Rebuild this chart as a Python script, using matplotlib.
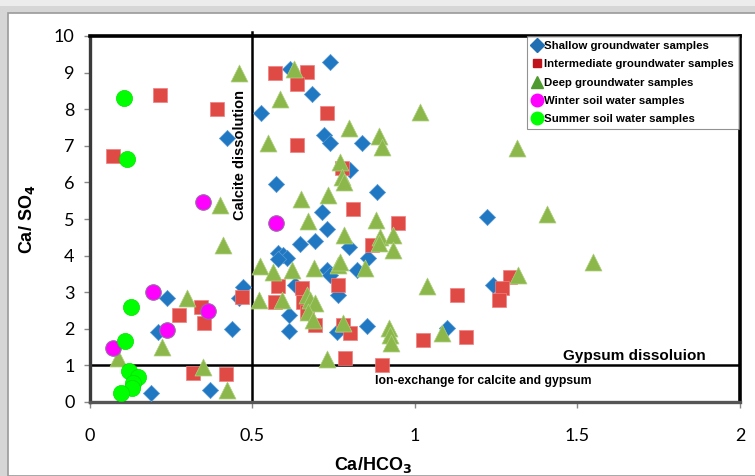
import matplotlib
matplotlib.use("Agg")
import matplotlib.pyplot as plt
from matplotlib.patches import Rectangle
from matplotlib.lines import Line2D

# Shallow groundwater samples (Ca/HCO3, Ca/SO4)
shallow_x = [0.525, 0.421, 0.615, 0.738, 0.683, 0.720, 0.738, 0.837, 0.800, 0.572,
             0.714, 0.883, 0.729, 0.692, 0.646, 0.797, 0.855, 0.577, 0.595, 0.606,
             0.580, 0.729, 0.738, 0.821, 0.763, 0.631, 0.612, 0.612, 0.760, 0.852,
             1.098, 1.222, 1.240, 0.470, 0.460, 0.237, 0.209, 0.437, 0.369, 0.188]
shallow_y = [7.90, 7.21, 9.10, 9.29, 8.42, 7.30, 7.08, 7.08, 6.34, 5.96,
             5.19, 5.74, 4.72, 4.40, 4.32, 4.24, 3.93, 4.07, 4.02, 3.93,
             3.90, 3.61, 3.47, 3.61, 2.92, 3.20, 2.38, 1.94, 1.91, 2.08,
             2.02, 5.05, 3.20, 3.14, 2.85, 2.84, 1.91, 1.99, 0.33, 0.25]

# Intermediate groundwater samples
inter_x = [0.215, 0.391, 0.071, 0.569, 0.668, 0.637, 0.729, 0.637, 0.775, 0.809,
           0.948, 0.868, 0.763, 0.578, 0.569, 0.652, 0.655, 0.668, 0.692, 0.778,
           0.800, 1.025, 1.129, 1.157, 1.292, 1.268, 1.258, 0.785, 0.898, 0.468,
           0.342, 0.274, 0.351, 0.317, 0.418]
inter_y = [8.39, 8.00, 6.72, 8.99, 9.02, 8.68, 7.90, 7.02, 6.39, 5.27,
           4.89, 4.29, 3.20, 3.17, 2.73, 3.11, 2.73, 2.46, 2.10, 2.10,
           1.88, 1.69, 2.92, 1.78, 3.42, 3.11, 2.79, 1.20, 1.01, 2.87,
           2.60, 2.38, 2.16, 0.79, 0.77]

# Deep groundwater samples
deep_x = [0.460, 0.400, 0.410, 0.523, 0.520, 0.298, 0.222, 0.086, 0.348, 0.422,
          0.628, 0.585, 0.797, 0.889, 0.898, 0.548, 0.769, 0.775, 0.782, 0.649,
          0.732, 0.671, 0.880, 1.015, 1.314, 1.406, 1.548, 1.317, 1.037, 1.083,
          0.782, 0.892, 0.932, 0.932, 0.889, 0.563, 0.622, 0.689, 0.763, 0.769,
          0.846, 0.591, 0.668, 0.677, 0.692, 0.671, 0.686, 0.778, 0.920, 0.923,
          0.926, 0.729]
deep_y = [9.00, 5.38, 4.29, 3.72, 2.79, 2.84, 1.50, 1.20, 0.96, 0.33,
          9.10, 8.28, 7.49, 7.27, 6.97, 7.08, 6.56, 6.15, 6.02, 5.55,
          5.66, 4.95, 4.98, 7.92, 6.94, 5.14, 3.83, 3.47, 3.17, 1.88,
          4.56, 4.51, 4.56, 4.15, 4.34, 3.55, 3.61, 3.66, 3.74, 3.83,
          3.66, 2.79, 2.92, 2.79, 2.70, 2.46, 2.24, 2.16, 2.02, 1.83,
          1.61, 1.17]

# Winter soil water samples
winter_x = [0.348, 0.572, 0.194, 0.363, 0.237, 0.071]
winter_y = [5.46, 4.89, 3.01, 2.49, 1.97, 1.48]

# Summer soil water samples
summer_x = [0.105, 0.114, 0.126, 0.108, 0.120, 0.148, 0.132, 0.129, 0.095]
summer_y = [8.31, 6.64, 2.60, 1.67, 0.85, 0.68, 0.52, 0.38, 0.25]

x_ticks = [0, 0.5, 1, 1.5, 2]
x_tick_labels = ["0", "0.5", "1", "1.5", "2"]
y_ticks = list(range(0, 11))

fig = plt.figure(figsize=(7.55, 4.76), dpi=100)
fig.patch.set_facecolor("#d6d6d6")
# white chart panel with a soft grey border, kept behind the axes
fig.patches.append(Rectangle((8 / 755, 0), 1, 1 - 13 / 476, transform=fig.transFigure,
                             facecolor="white", edgecolor="#9a9a9a", lw=1.2, zorder=-10))
fig.patches.append(Rectangle((0, 1 - 6 / 476), 1, 6 / 476, transform=fig.transFigure,
                             facecolor="#ececec", edgecolor="none", zorder=-10))

ax = fig.add_axes([90 / 755, 1 - 402 / 476, 650 / 755, 366 / 476])
ax.set_facecolor("white")
ax.set_xlim(0, 2)
ax.set_ylim(0, 10)

blue = "#1f78c1"
red = "#e04a45"
green_t = "#8cb84b"

ax.scatter(shallow_x, shallow_y, marker="D", s=68, c=blue, edgecolors="#5a9bd5",
           linewidths=0.5, zorder=3)
ax.scatter(inter_x, inter_y, marker="s", s=110, c=red, edgecolors="#f08080",
           linewidths=0.5, zorder=3)
ax.scatter(deep_x, deep_y, marker="^", s=150, c=green_t, edgecolors="#b0d080",
           linewidths=0.5, zorder=3)
ax.scatter(winter_x, winter_y, marker="o", s=125, c="#ff00ff", edgecolors="#9a6aa8",
           linewidths=0.8, zorder=4)
ax.scatter(summer_x, summer_y, marker="o", s=135, c="#00ff00", edgecolors="#00e000",
           linewidths=0.5, zorder=4)

# process boundaries
ax.plot([0.5, 0.5], [0, 10.12], color="black", lw=1.8, zorder=2, clip_on=False)
ax.plot([0, 2], [1, 1], color="black", lw=1.8, zorder=2)

ax.text(0.462, 6.75, "Calcite dissolution", rotation=90, ha="center", va="center",
        fontsize=10.5, fontweight="bold", family="Liberation Sans", zorder=5)
ax.text(1.675, 1.25, "Gypsum dissoluion", ha="center", va="center",
        fontsize=11, fontweight="bold", family="Liberation Sans", zorder=5)
ax.text(1.21, 0.58, "Ion-exchange for calcite and gypsum", ha="center", va="center",
        fontsize=8.8, fontweight="bold", family="Liberation Sans", zorder=5)

for side in ("top", "right"):
    ax.spines[side].set_color("black")
    ax.spines[side].set_linewidth(2.6)
ax.spines["left"].set_color("#3a3a3a")
ax.spines["left"].set_linewidth(2.4)
ax.spines["bottom"].set_color("#555555")
ax.spines["bottom"].set_linewidth(2.4)

ax.set_xticks(x_ticks)
ax.set_xticklabels(x_tick_labels)
ax.set_yticks(y_ticks)
ax.tick_params(axis="x", direction="out", length=4, width=1, color="#888888",
               pad=15, labelsize=13)
ax.tick_params(axis="y", direction="out", length=4, width=1, color="#888888",
               pad=7, labelsize=13)
for lbl in ax.get_xticklabels() + ax.get_yticklabels():
    lbl.set_family("Lato")

fig.text(27 / 755, 1 - 219 / 476, "Ca/ SO$_\\mathbf{4}$", rotation=90, ha="center",
         va="center", fontsize=13, fontweight="bold", family="Liberation Sans")
fig.text(373 / 755, 1 - 465 / 476, "Ca/HCO$_\\mathbf{3}$", ha="center", va="center",
         fontsize=13, fontweight="bold", family="Liberation Sans")

handles = [
    Line2D([], [], marker="D", ls="none", color="#1f6fb2", markersize=7),
    Line2D([], [], marker="s", ls="none", color="#c0141c", markersize=6),
    Line2D([], [], marker="^", ls="none", color="#4f9a2e", markersize=9),
    Line2D([], [], marker="o", ls="none", color="#ff00ff", markersize=9),
    Line2D([], [], marker="o", ls="none", color="#00ff00", markersize=9),
]
labels = ["Shallow groundwater samples", "Intermediate groundwater samples",
          "Deep groundwater samples", "Winter soil water samples",
          "Summer soil water samples"]
leg = ax.legend(handles, labels, loc="upper left", bbox_to_anchor=(0.672, 1.0),
                borderaxespad=0, frameon=True, fancybox=False, handlelength=0.9,
                handletextpad=0.2, borderpad=0.45, labelspacing=0.72,
                prop={"family": "Liberation Sans", "weight": "bold", "size": 8.2})
leg.get_frame().set_edgecolor("#777777")
leg.get_frame().set_linewidth(0.8)
leg.set_zorder(6)

fig.savefig("out.png", dpi=100, facecolor=fig.get_facecolor())
